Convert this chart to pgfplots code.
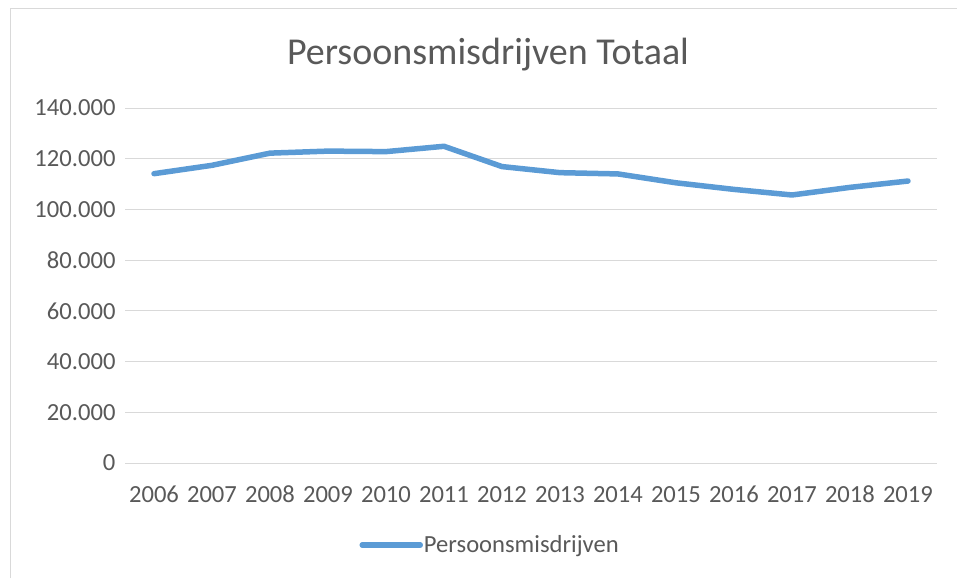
\documentclass[border=0pt]{standalone}
\usepackage{pgfplots}
\pgfplotsset{compat=1.18}
\usepackage{fontspec}
\setmainfont{Carlito}
\definecolor{linec}{HTML}{5B9BD5}
\definecolor{gridc}{HTML}{D9D9D9}
\definecolor{txt}{HTML}{595959}
\begin{document}
\begin{tikzpicture}[x=1pt,y=1pt]
\useasboundingbox (0,0) rectangle (957,-578);
\draw[gridc, line width=1pt] (10,-578) -- (10,-9) -- (957,-9);
\node[txt, font=\fontsize{38}{46}\selectfont] at (488,-55) {Persoonsmisdrijven Totaal};
\begin{axis}[at={(125pt,-463pt)}, anchor=south west, scale only axis,
  width=812pt, height=355pt,
  xmin=2005.5, xmax=2019.5, ymin=0, ymax=140000,
  xtick={2006,...,2019}, ytick={0,20000,...,140000},
  scaled y ticks=false,
  axis line style={draw=none},
  major tick length=0pt,
  ymajorgrids, grid style={gridc, line width=1pt},
  xticklabel style={/pgf/number format/1000 sep=, /pgf/number format/assume math mode=true, text=txt, font=\fontsize{24.6}{29}\selectfont, anchor=base, inner sep=0pt, yshift=-39pt},
  yticklabel style={/pgf/number format/.cd, fixed, 1000 sep={.}, assume math mode=true, /tikz/.cd, text=txt, font=\fontsize{24.6}{29}\selectfont, xshift=-6pt},
  legend style={at={(0.449,-0.231)}, anchor=center, draw=none, fill=none,
    font=\fontsize{24.6}{29}\selectfont, text=txt, inner sep=0pt,
    nodes={inner sep=1pt}},
  legend image code/.code={\draw[#1] (0pt,0pt) -- (58pt,0pt);},
]
\addplot[linec, line width=5.5pt, line join=round, line cap=round] coordinates {
(2006,114100) (2007,117400) (2008,122200) (2009,123000) (2010,122800)
(2011,124900) (2012,116900) (2013,114500) (2014,114000) (2015,110500)
(2016,107900) (2017,105700) (2018,108700) (2019,111200)};
\addlegendentry{Persoonsmisdrijven}
\end{axis}
\end{tikzpicture}
\end{document}
